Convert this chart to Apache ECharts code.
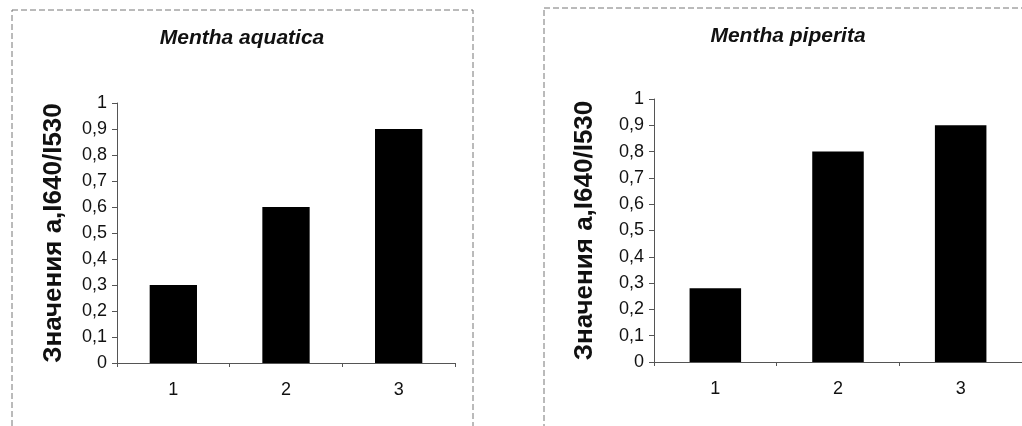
<!DOCTYPE html>
<html>
<head>
<meta charset="utf-8">
<script src="https://cdn.jsdelivr.net/npm/echarts@6/dist/echarts.min.js"></script>
<style>html,body{margin:0;padding:0;background:#fff;}#c{width:1022px;height:426px;}</style>
</head>
<body>
<div id="c"></div>
<script>
const categories = ['1', '2', '3'];
const aquaticaValues = [0.30, 0.60, 0.90];
const piperitaValues = [0.28, 0.80, 0.90];
const titles = ['Mentha aquatica', 'Mentha piperita'];
const yName = 'Значения a,I640/I530';

const FONT = '"Liberation Sans", Arial, sans-serif';
const chart = echarts.init(document.getElementById('c'));
const fmt = v => String(Math.round(v * 10) / 10).replace('.', ',');

function yAxis(gridIndex, gap) {
  return {
    type: 'value', gridIndex, min: 0, max: 1, interval: 0.1,
    name: yName, nameLocation: 'middle', nameRotate: 90, nameGap: gap,
    nameTextStyle: { fontFamily: FONT, fontWeight: 'bold', fontSize: 26, color: '#111' },
    axisLine: { show: true, lineStyle: { color: '#555', width: 1 } },
    axisTick: { show: true, length: 5, lineStyle: { color: '#555' } },
    axisLabel: { formatter: fmt, fontFamily: FONT, fontSize: 18, color: '#111', margin: 10 },
    splitLine: { show: false }
  };
}
function xAxis(gridIndex) {
  return {
    type: 'category', gridIndex, data: categories,
    axisLine: { lineStyle: { color: '#555', width: 1 } },
    axisTick: { show: true, length: 4, lineStyle: { color: '#555' } },
    axisLabel: { fontFamily: FONT, fontSize: 18, color: '#111', margin: 18 }
  };
}

chart.setOption({
  animation: false,
  backgroundColor: '#fff',
  grid: [
    { left: 117, top: 103, width: 338, height: 260 },
    { left: 654, top: 99, width: 368, height: 263 }
  ],
  xAxis: [xAxis(0), xAxis(1)],
  yAxis: [yAxis(0, 50), yAxis(1, 56)],
  series: [
    { type: 'bar', xAxisIndex: 0, yAxisIndex: 0, data: aquaticaValues, barWidth: '42%', itemStyle: { color: '#000' } },
    { type: 'bar', xAxisIndex: 1, yAxisIndex: 1, data: piperitaValues, barWidth: '42%', itemStyle: { color: '#000' } }
  ],
  graphic: [
    { type: 'rect', shape: { x: 12, y: 10, width: 461, height: 440 }, style: { fill: 'none', stroke: '#777', lineWidth: 1, lineDash: [6, 3] } },
    { type: 'rect', shape: { x: 544, y: 8, width: 500, height: 440 }, style: { fill: 'none', stroke: '#777', lineWidth: 1, lineDash: [6, 3] } },
    { type: 'text', x: 242, y: 38, style: { text: titles[0], font: 'italic bold 21px ' + FONT, fill: '#111', textAlign: 'center', textVerticalAlign: 'middle' } },
    { type: 'text', x: 788, y: 36, style: { text: titles[1], font: 'italic bold 21px ' + FONT, fill: '#111', textAlign: 'center', textVerticalAlign: 'middle' } }
  ]
});
</script>
</body>
</html>
